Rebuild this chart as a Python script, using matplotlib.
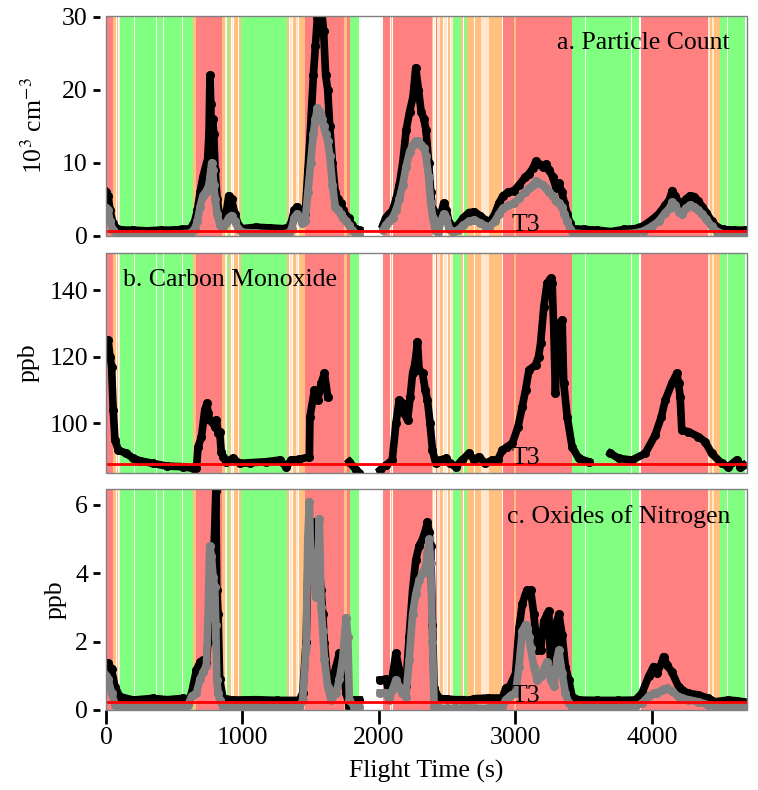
import numpy as np
import matplotlib.pyplot as plt
from matplotlib.patches import Rectangle

nan = np.nan

# flight segment classification: (start s, end s, class)
bands = [
    (0, 50, 'r'), (50, 58, 'o'), (62, 72, 'o'), (78, 88, 'o'), (92, 100, 'p'),
    (100, 208, 'g'), (212, 370, 'g'), (373, 420, 'g'), (423, 560, 'g'), (563, 640, 'g'),
    (640, 660, 'o'), (660, 850, 'r'), (850, 870, 'o'), (872, 880, 'p'), (884, 900, 'g'),
    (904, 915, 'o'), (920, 930, 'p'), (935, 950, 'o'), (956, 970, 'o'), (975, 990, 'o'),
    (990, 1090, 'g'), (1093, 1200, 'g'), (1203, 1280, 'g'), (1283, 1330, 'g'),
    (1330, 1345, 'o'), (1350, 1365, 'p'), (1370, 1390, 'o'), (1395, 1410, 'p'), (1415, 1455, 'o'),
    (1455, 1745, 'r'), (1748, 1765, 'o'), (1765, 1785, 'r'), (1785, 1857, 'g'),
    (2030, 2085, 'r'), (2088, 2098, 'o'), (2100, 2390, 'r'), (2392, 2400, 'o'), (2405, 2415, 'p'),
    (2418, 2424, 'r'), (2428, 2445, 'p'), (2448, 2470, 'o'), (2474, 2500, 'p'), (2505, 2520, 'o'),
    (2525, 2540, 'p'), (2544, 2600, 'g'), (2604, 2618, 'o'), (2622, 2645, 'g'), (2648, 2698, 'o'),
    (2703, 2750, 'o'), (2750, 2810, 'p'), (2810, 2905, 'o'), (2910, 2992, 'r'), (2994, 3004, 'o'),
    (3006, 3415, 'r'), (3418, 3512, 'g'), (3515, 3850, 'g'), (3856, 3875, 'g'), (3880, 3905, 'g'),
    (3918, 4380, 'r'), (4385, 4412, 'r'), (4415, 4425, 'p'), (4428, 4440, 'o'), (4444, 4455, 'p'),
    (4458, 4500, 'o'), (4503, 4555, 'g'), (4560, 4595, 'g'), (4598, 4686, 'g'),
]

# a. particle count (10^3 cm-3)
a_time = [0, 15, 30, 50, 80, 120, 200, 300, 400, 500, 560, 620, 650, 670, 690, 710, 730, 745,
          755, 762, 768, 775, 782, 790, 800, 815, 835, 855, 880, 900, 920, 945, 970, 1000,
          1100, 1200, 1300, 1340, 1360, 1380, 1400, 1420, 1440, 1460, 1480, 1500, 1520, 1535,
          1550, 1565, 1580, 1595, 1610, 1625, 1640, 1660, 1680, 1700, 1720, 1740, 1760, 1780,
          1800, 1830, 1857, 1940,
          2030, 2050, 2075, 2100, 2125, 2150, 2175, 2200, 2225, 2250, 2270, 2290, 2310, 2330,
          2345, 2365, 2380, 2395, 2415, 2435, 2455, 2475, 2495, 2515, 2545, 2580, 2620, 2660,
          2700, 2740, 2780, 2810, 2850, 2880, 2910, 2950, 2990, 3030, 3070, 3100, 3130, 3150,
          3175, 3200, 3225, 3250, 3275, 3300, 3320, 3340, 3360, 3380, 3400, 3420, 3500, 3600,
          3700, 3800, 3880, 3940, 4000, 4050, 4100, 4130, 4150, 4170, 4200, 4220, 4250, 4280,
          4310, 4340, 4370, 4400, 4440, 4480, 4520, 4600, 4680]
a_black = [6.0, 5.5, 3.5, 1.8, 1.0, 0.8, 0.8, 0.7, 0.8, 0.8, 0.9, 1.0, 2.0, 3.5, 6.0, 8.0, 9.5, 10.5,
           14.0, 22.0, 18.0, 12.0, 16.0, 14.0, 9.0, 5.0, 2.5, 1.8, 3.0, 5.5, 5.0, 3.0, 1.5, 1.0,
           1.2, 1.1, 1.0, 1.2, 2.0, 3.5, 4.0, 3.5, 2.5, 3.0, 9.0, 15.0, 22.0, 26.0,
           30.0, 29.0, 31.0, 28.0, 22.0, 20.0, 15.0, 10.0, 6.0, 5.0, 4.5, 3.5, 2.8, 2.5,
           1.5, 0.9, 0.8, nan,
           1.5, 2.5, 3.0, 3.5, 5.0, 7.0, 10.0, 14.5, 17.0, 19.0, 23.0, 20.0, 17.0, 16.0,
           14.5, 10.0, 6.0, 3.5, 1.5, 1.2, 3.0, 4.5, 3.5, 1.8, 1.2, 1.5, 2.5, 3.2,
           3.3, 2.8, 2.2, 1.8, 3.0, 4.5, 5.5, 6.0, 6.2, 7.0, 8.0, 8.5, 9.3, 10.2,
           9.8, 9.5, 9.8, 9.0, 8.0, 6.5, 7.2, 6.0, 4.5, 3.0, 1.8, 1.0, 0.9, 0.8,
           0.6, 0.9, 1.0, 1.4, 2.2, 3.0, 4.2, 5.0, 6.2, 5.5, 4.6, 4.3, 5.0, 5.5,
           5.4, 4.8, 4.0, 3.2, 2.0, 1.2, 0.9, 0.8, 0.8]
a_gray = [3.8, 3.5, 2.0, 0.8, 0.3, 0.2, 0.2, 0.2, 0.2, 0.2, 0.3, 0.4, 1.0, 2.0, 4.0, 5.5, 6.0, 6.5,
          7.0, 8.0, 9.0, 10.0, 9.0, 7.0, 5.0, 3.0, 1.5, 1.2, 1.8, 2.5, 2.8, 2.0, 1.0, 0.5,
          0.4, 0.3, 0.3, 0.4, 1.0, 2.5, 3.0, 2.5, 1.8, 2.0, 6.0, 10.0, 14.0, 16.0,
          17.5, 17.0, 16.0, 15.0, 14.0, 13.0, 11.0, 7.0, 4.0, 3.5, 3.0, 2.5, 2.0, 1.5,
          0.8, 0.3, 0.2, nan,
          0.8, 1.5, 2.0, 2.5, 3.5, 5.0, 7.0, 9.5, 11.5, 12.5, 13.0, 13.0, 12.5, 12.0,
          11.0, 8.0, 4.5, 2.5, 0.8, 0.5, 2.0, 3.0, 2.5, 1.0, 0.6, 0.8, 1.5, 2.0,
          2.2, 1.8, 1.4, 1.2, 2.0, 3.0, 3.8, 4.2, 4.5, 5.2, 6.0, 6.5, 7.0, 7.5,
          7.2, 7.0, 6.5, 6.0, 5.5, 4.8, 4.5, 4.0, 3.0, 2.0, 1.0, 0.4, 0.3, 0.2,
          0.1, 0.3, 0.4, 0.7, 1.3, 2.0, 3.2, 3.8, 4.6, 4.2, 3.3, 3.0, 3.8, 4.2,
          4.0, 3.6, 3.0, 2.3, 1.3, 0.6, 0.3, 0.2, 0.2]

# b. carbon monoxide (ppb)
b_time = [0, 15, 30, 41, 53, 66, 90, 150, 200, 250, 344, 444, 566, 640, 663, 675, 700, 715, 724,
          740, 748, 760, 785, 800, 809, 822, 833, 845, 858, 882, 931, 980, 1053, 1175, 1272,
          1321, 1357, 1418, 1491, 1495, 1528, 1552, 1577, 1601, 1625, 1700, 1784, 1833, 1857, 1940,
          2010, 2054, 2098, 2125, 2149, 2170, 2186, 2210, 2230, 2247, 2265, 2283, 2295, 2320,
          2340, 2356, 2375, 2393, 2417, 2450, 2490, 2520, 2563, 2610, 2661, 2700, 2734, 2780,
          2831, 2870, 2905, 2940, 2978, 3020, 3051, 3075, 3100, 3148, 3170, 3185, 3209, 3233,
          3258, 3270, 3282, 3294, 3305, 3319, 3330, 3343, 3355, 3380, 3416, 3465, 3538, 3620,
          3697, 3758, 3855, 3952, 4025, 4070, 4099, 4147, 4184, 4196, 4208, 4220, 4269, 4342,
          4391, 4439, 4512, 4561, 4622, 4650, 4671]
b_black = [124, 125, 120, 117, 104, 95, 92, 91, 89.5, 88.8, 88, 87.2, 87, 86.5, 86.5, 93, 96, 101, 104,
           106, 103, 101, 100, 99, 101, 97, 97.5, 91.5, 90, 88.5, 89.5, 88, 88.2, 88.5, 89,
           87, 89, 89.2, 90, 102, 110, 107, 112, 115, 108, nan, 88.5, 86, 85, nan,
           86, 87.5, 89, 100, 107, 106, 103, 101, 108, 115, 118, 124.5, 116, 115,
           110, 107, 100, 92, 88, 89, 89.5, 88, 87, 89, 91, 89, 90, 88,
           89, 89, 92, 93, 94, 99, 105, 110, 116, 117.5, 120, 124, 135, 142,
           143.5, 142, 128, 109, 125, 130, 120, 131, 112, 102, 93, 89.5, 88.5, nan,
           91, 89.5, 89, 91, 96.5, 102, 107, 112, 115, 112, 108, 98, 97.5, 96,
           94.5, 91, 88, 87, 89, 87, 87.5]

# c. oxides of nitrogen (ppb)
c_time = [0, 15, 41, 66, 102, 199, 344, 450, 566, 602, 627, 663, 690, 712, 736, 748, 760, 773,
          785, 797, 805, 812, 822, 833, 858, 931, 1100, 1250, 1418, 1442, 1467, 1479, 1491,
          1503, 1520, 1540, 1552, 1564, 1577, 1589, 1601, 1625, 1650, 1686, 1711, 1735, 1760,
          1772, 1784, 1820, 1857, 1940,
          2010, 2052, 2076, 2100, 2125, 2150, 2173, 2198, 2222, 2247, 2271, 2295, 2320, 2344,
          2356, 2368, 2380, 2393, 2405, 2440, 2500, 2560, 2620, 2661, 2700, 2800, 2905, 2929,
          2960, 3002, 3027, 3051, 3075, 3087, 3100, 3112, 3136, 3160, 3185, 3209, 3233, 3245,
          3258, 3282, 3306, 3319, 3343, 3367, 3392, 3416, 3465, 3600, 3750, 3880, 3928, 3977,
          4013, 4038, 4074, 4086, 4110, 4147, 4196, 4220, 4269, 4342, 4415, 4464, 4561, 4620, 4671]
c_black = [1.3, 1.37, 1.2, 0.68, 0.39, 0.29, 0.34, 0.3, 0.34, 0.24, 0.49, 1.17, 1.4, 1.46, 1.37, 2.0,
           2.83, 4.1, 4.1, 5.3, 6.4, 3.5, 2.8, 0.9, 0.34, 0.29, 0.3, 0.28, 0.28, 0.5, 2.0, 4.0,
           5.0, 5.4, 5.5, 4.5, 3.5, 4.1, 3.5, 2.8, 1.95, 0.88, 0.78, 1.27, 1.66, 1.27, 0.49,
           0.3, 0.1, 0.29, 0.29, nan,
           0.88, 0.9, 0.5, 1.0, 1.66, 1.17, 0.98, 0.7, 2.15, 3.5, 4.4, 4.8, 5.0, 5.3,
           5.5, 5.2, 4.8, 2.5, 0.63, 0.34, 0.32, 0.3, 0.3, 0.28, 0.33, 0.35, 0.35, 0.63,
           0.7, 1.07, 2.4, 3.1, 3.4, 3.5, 3.5, 3.5, 2.8, 1.75, 1.75, 2.6, 2.8, 2.9,
           1.37, 1.17, 2.6, 2.8, 2.2, 1.27, 0.88, 0.39, 0.29, 0.28, 0.28, 0.29, 0.49, 0.98,
           1.27, 1.07, 1.4, 1.56, 1.32, 1.12, 0.68, 0.58, 0.49, 0.44, 0.34, 0.24, 0.29, 0.27, 0.24]
c_gray = [1.0, 0.9, 0.5, 0.15, 0.1, 0.08, 0.08, 0.08, 0.1, 0.15, 0.4, 0.5, 0.9, 1.1, 1.3, 2.7,
          4.8, 4.5, 3.9, 3.6, 2.5, 0.88, 0.5, 0.29, 0.1, 0.08, 0.08, 0.08, 0.08, 0.3, 1.85, 5.0,
          6.1, 3.8, 4.6, 3.3, 4.2, 5.6, 3.0, 2.3, 1.5, 0.68, 0.29, 0.5, 0.9, 1.5, 2.7,
          2.15, 0.29, 0.1, 0.1, nan,
          0.5, 0.5, 0.3, 0.6, 0.88, 0.68, 0.5, 0.39, 1.46, 2.8, 3.4, 3.8, 4.0, 4.2,
          4.6, 5.0, 4.3, 2.0, 0.1, 0.05, 0.05, 0.05, 0.05, 0.05, 0.05, 0.05, 0.1, 0.3,
          0.4, 0.49, 1.27, 2.3, 2.5, 2.4, 2.15, 1.8, 1.27, 0.88, 1.0, 1.2, 1.41, 1.2,
          0.88, 0.7, 1.5, 1.75, 1.07, 0.49, 0.2, 0.1, 0.08, 0.08, 0.08, 0.1, 0.2, 0.4,
          0.49, 0.5, 0.58, 0.6, 0.63, 0.55, 0.39, 0.35, 0.3, 0.24, 0.15, 0.1, 0.1, 0.1, 0.1]

thresholds = [0.7, 87.7, 0.24]
panel_titles = ['a. Particle Count', 'b. Carbon Monoxide', 'c. Oxides of Nitrogen']
y_labels = ['10$^3$ cm$^{-3}$', 'ppb', 'ppb']
y_limits = [(0, 30.1), (85.2, 151.2), (0, 6.46)]
y_ticks = [[0, 10, 20, 30], [100, 120, 140], [0, 2, 4, 6]]
x_ticks = [0, 1000, 2000, 3000, 4000]

plt.rcParams['font.family'] = ['Liberation Serif', 'DejaVu Serif']
plt.rcParams['mathtext.fontset'] = 'stix'
plt.rcParams['font.size'] = 18.5

band_colors = {'r': '#FF8080', 'g': '#80FF80', 'o': '#FFC080', 'p': '#FFE6CC'}

fig = plt.figure(figsize=(7.58, 7.9), dpi=100)
left, width = 0.1398, 0.8457
boxes = [(0.7013, 0.2785), (0.4016, 0.2785), (0.1013, 0.2794)]
series = [(a_time, a_black, a_gray), (b_time, b_black, None), (c_time, c_black, c_gray)]
title_pos = [(0.9735, 'right'), (0.0265, 'left'), (0.9735, 'right')]
ylabel_x = [-0.092, -0.103, -0.061]

for i in range(3):
    ax = fig.add_axes([left, boxes[i][0], width, boxes[i][1]])
    for s, e, k in bands:
        ax.axvspan(s, e, color=band_colors[k], lw=0, zorder=0)
    t, blk, gry = series[i]
    ax.plot(t, blk, '-o', color='black', lw=5.5, ms=5.5, zorder=2)
    if gry is not None:
        ax.plot(t, gry, '-o', color='#808080', lw=5.5, ms=5.5, zorder=3)
    ax.axhline(thresholds[i], color='#FF0000', lw=2, zorder=4)
    ax.text(3080, thresholds[i], 'T3', ha='center', va='baseline', zorder=5)
    ax.text(title_pos[i][0], 0.876, panel_titles[i], ha=title_pos[i][1], va='center',
            transform=ax.transAxes, zorder=6)

    ax.set_xlim(0, 4698)
    ax.set_ylim(*y_limits[i])
    ax.set_yticks(y_ticks[i])
    for side in ['top', 'right', 'left', 'bottom']:
        ax.spines[side].set_visible(False)
    ax.spines['left'].set_position(('outward', 4))
    ax.add_patch(Rectangle((0, 0), 1, 1, transform=ax.transAxes, fill=False,
                           ec='#808080', lw=1, zorder=7, clip_on=False))
    ax.tick_params(axis='y', length=5, width=2, pad=4, color='black')
    if i == 2:
        ax.set_xticks(x_ticks)
        ax.tick_params(axis='x', length=10, width=2, pad=2, color='black')
        ax.set_xlabel('Flight Time (s)', labelpad=8)
    else:
        ax.set_xticks([])
    ax.set_ylabel(y_labels[i])
    ax.yaxis.set_label_coords(ylabel_x[i], 0.5)

fig.savefig('out.png', dpi=100)
